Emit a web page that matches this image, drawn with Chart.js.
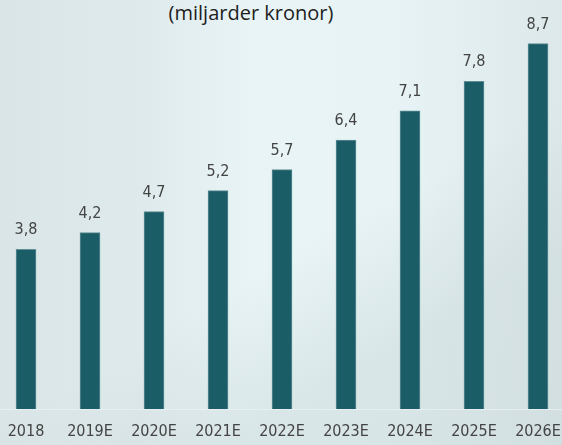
<!DOCTYPE html>
<html lang="sv">
<head>
  <meta charset="UTF-8" />
  <title>Marknad (miljarder kronor)</title>
  <script src="https://cdn.jsdelivr.net/npm/chart.js"></script>
  <style>
    html, body {
      margin: 0;
      padding: 0;
      width: 562px;
      height: 445px;
      overflow: hidden;
    }
    body {
      position: relative;
      background:
        linear-gradient(150deg, rgba(255,255,255,0) 55%, rgba(200,214,216,0.45) 75%, rgba(200,214,216,0.5) 100%),
        linear-gradient(90deg, #dae5e7 0%, #dfeaec 25%, #e8f4f6 45%, #e7f3f5 70%, #dde8ea 100%);
    }
    .title {
      position: absolute;
      left: 0;
      top: -1px;
      width: 502px;
      text-align: center;
      font-family: "Open Sans", sans-serif;
      font-size: 20px;
      color: #1e1e1e;
    }
    .wrap {
      position: absolute;
      left: -6px;
      top: 0;
      width: 576px;
      height: 445px;
    }
  </style>
</head>
<body>
  <div class="title">(miljarder kronor)</div>
  <div class="wrap"><canvas id="chart"></canvas></div>

  <script>
    const years = ['2018', '2019E', '2020E', '2021E', '2022E', '2023E', '2024E', '2025E', '2026E'];
    const values = [3.8, 4.2, 4.7, 5.2, 5.7, 6.4, 7.1, 7.8, 8.7];

    const labelFont = '"DejaVu Sans Condensed", sans-serif';

    // value labels above each bar, Swedish decimal comma
    const valueLabels = {
      id: 'valueLabels',
      afterDatasetsDraw(chart) {
        const ctx = chart.ctx;
        const meta = chart.getDatasetMeta(0);
        ctx.save();
        ctx.font = '16px ' + labelFont;
        ctx.fillStyle = '#444444';
        ctx.textAlign = 'center';
        ctx.textBaseline = 'alphabetic';
        meta.data.forEach((bar, i) => {
          ctx.fillText(String(values[i]).replace('.', ','), bar.x, bar.y - 15);
        });
        ctx.restore();
      }
    };

    new Chart(document.getElementById('chart'), {
      type: 'bar',
      data: {
        labels: years,
        datasets: [{
          data: values,
          backgroundColor: '#1b5d66',
          borderColor: '#5f8f95',
          borderWidth: { top: 1, left: 1, right: 1, bottom: 0 },
          barThickness: 20
        }]
      },
      options: {
        responsive: true,
        maintainAspectRatio: false,
        animation: false,
        layout: { padding: { top: 31, left: 0, right: 0, bottom: 0 } },
        plugins: {
          legend: { display: false },
          tooltip: { enabled: false }
        },
        scales: {
          x: {
            grid: { display: false },
            border: { display: true, color: 'rgba(236,243,244,0.7)', width: 1 },
            ticks: {
              color: '#444444',
              padding: 5,
              font: { family: labelFont, size: 16 }
            },
            afterFit(scale) { scale.height = 36; }
          },
          y: {
            display: false,
            min: 0,
            max: 9
          }
        }
      },
      plugins: [valueLabels]
    });
  </script>
</body>
</html>
